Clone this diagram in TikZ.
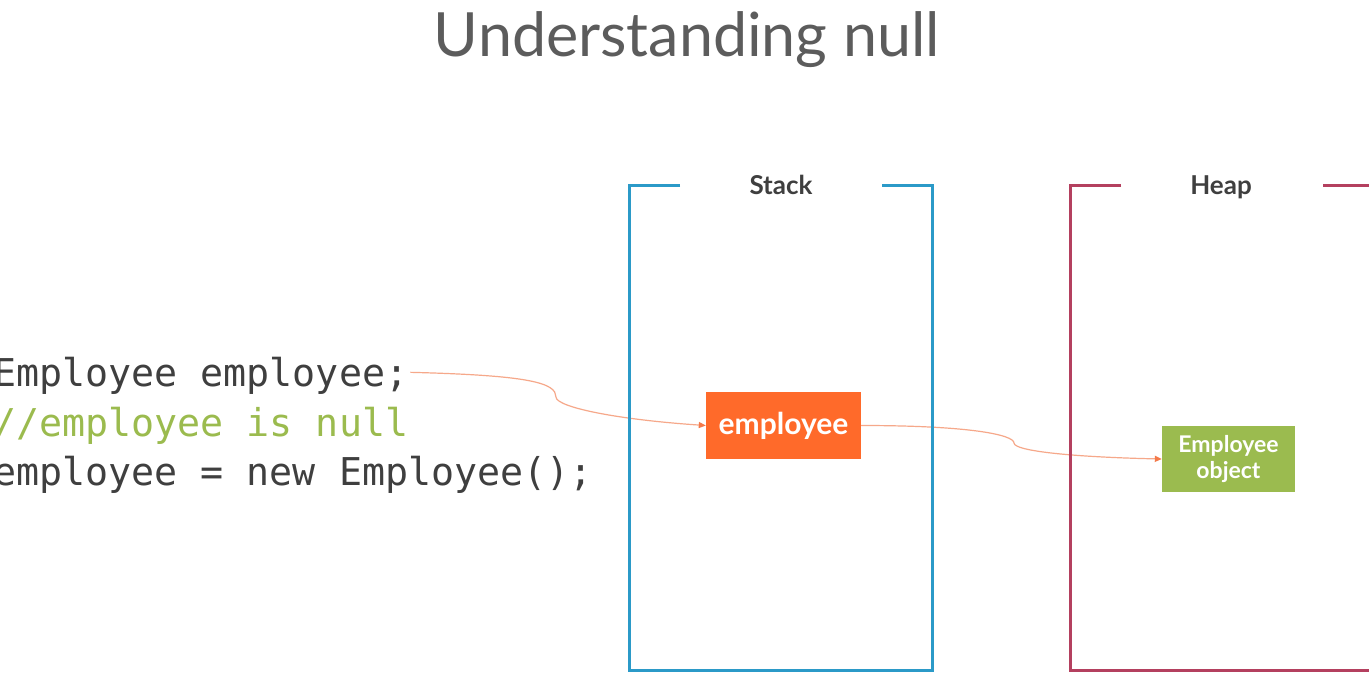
\documentclass[tikz,border=0pt]{standalone}
\usepackage{fontspec}
\usepackage{tikz}
\usetikzlibrary{arrows.meta,positioning}
\setmainfont{Lato}
\newfontfamily\codefont{DejaVu Sans Mono}
\definecolor{codegray}{HTML}{3F3F3F}
\definecolor{commentgreen}{HTML}{9BBB4E}
\definecolor{stackblue}{HTML}{2B9AC8}
\definecolor{heapred}{HTML}{B4405F}
\definecolor{emporange}{HTML}{FF6A2A}
\definecolor{objgreen}{HTML}{9BBB4F}
\definecolor{linkcol}{HTML}{F6A88A}
\definecolor{tipcol}{HTML}{F47A4A}

\begin{document}
\begin{tikzpicture}[
    x=1pt,
    y=-1pt,
    code/.style={font=\codefont\fontsize{38.3}{40}\selectfont, text=codegray, anchor=base west, inner sep=0pt},
    memlbl/.style={font=\bfseries\fontsize{26}{28}\selectfont, text=codegray, inner sep=0pt, anchor=base},
    cell/.style={text=white, font=\bfseries, align=center, inner sep=0pt},
    frame/.style={line width=3pt},
    link/.style={draw=linkcol, line width=1.2pt, -{Triangle[length=7pt,width=6pt,color=tipcol]}}
]
\fill[white] (0,0) rectangle (1369,675);
\useasboundingbox (0,0) rectangle (1369,675);

\node[text=codegray!85, font=\fontsize{61}{64}\selectfont] (title) at (687,40) {Understanding null};

% code lines
\node[code] (decl) at (-7,386) {Employee employee;};
\node[code, text=commentgreen] (comment) at (-7,436) {//employee is null};
\node[code] (assign) at (-7,485) {employee = new Employee();};

% stack and heap cells
\node[cell, fill=emporange, minimum width=155pt, minimum height=67pt,
      font=\bfseries\fontsize{30}{32}\selectfont] (emp) at (783.5,425.5) {employee};
\node[cell, fill=objgreen, minimum width=133pt, minimum height=66pt,
      font=\bfseries\fontsize{23}{26}\selectfont] (obj) at (1228.5,459) {Employee\\object};

\coordinate (bendA) at (556,397);
\coordinate (bendB) at (1014,443);

\draw[link] ([xshift=2pt,yshift=3pt]decl.east) .. controls +(120,3) and +(0,-14) .. (bendA)
    .. controls +(0,10) and +(-90,-6) .. (emp.west);
\draw[link] (emp.east) .. controls +(110,0) and +(0,-8) .. (bendB)
    .. controls +(0,8) and +(-90,-2) .. (obj.west);

% frames
\node[memlbl] (stacklbl) at (781,194) {Stack};
\node[memlbl] (heaplbl) at (1221,194) {Heap};
\draw[frame, stackblue] (680,185) -- (629,185) -- (629,670) -- (932,670) -- (932,185) -- (882,185);
\draw[frame, heapred] (1121,185) -- (1070,185) -- (1070,670) -- (1380,670);
\draw[frame, heapred] (1323,185) -- (1380,185);
\end{tikzpicture}
\end{document}
